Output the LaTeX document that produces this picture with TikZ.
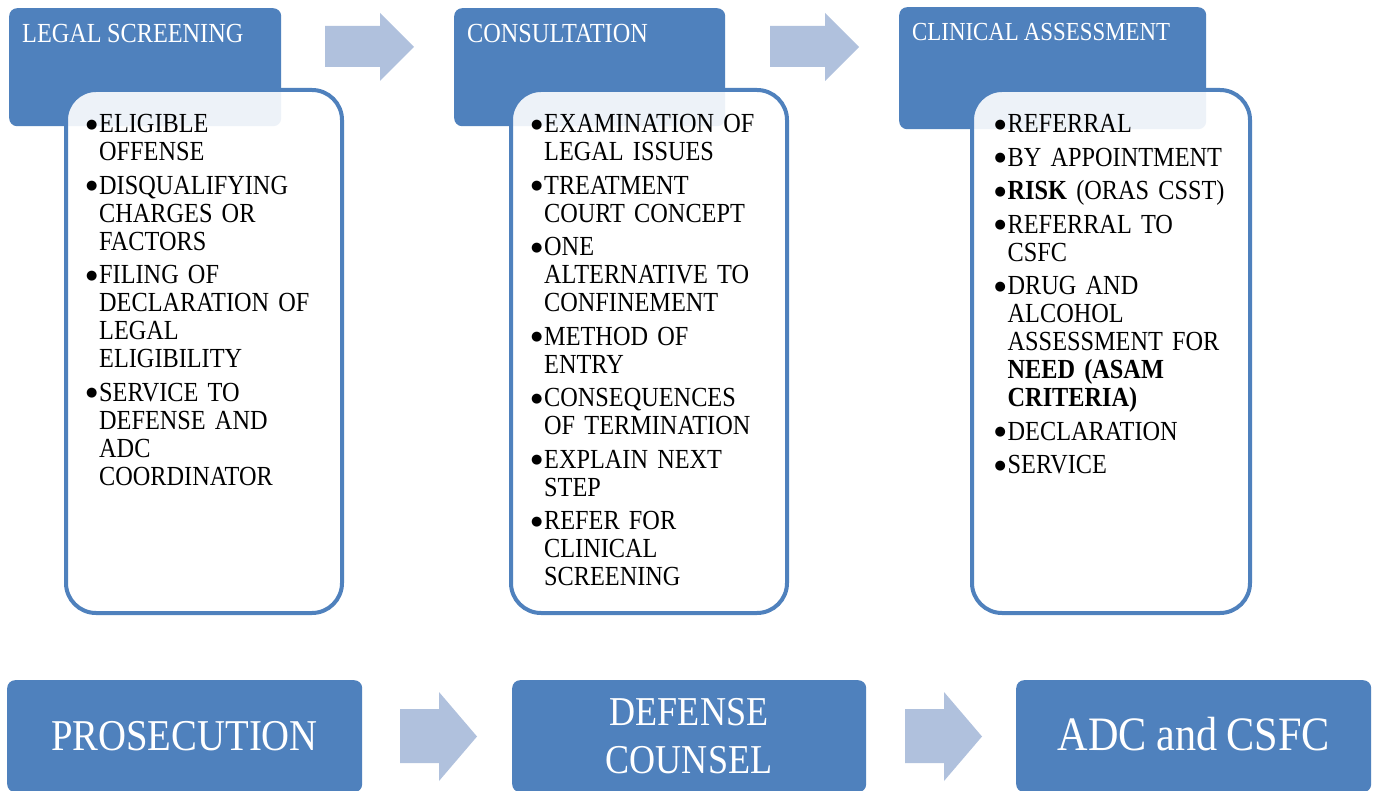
\documentclass[tikz,border=0pt]{standalone}
\usepackage{fontspec}
\setmainfont[FakeStretch=0.88,WordSpace=0.88]{Liberation Serif}
\newfontfamily\symf{DejaVu Sans}
\definecolor{hdr}{RGB}{79,129,189}
\definecolor{arr}{RGB}{176,193,221}
\newcommand\bl{\makebox[12.5pt][l]{\hspace*{-0.5pt}\raisebox{4.6pt}{\symf\fontsize{13}{13}\selectfont ●}}}
\newcommand\ind{\hspace*{12.5pt}}
\begin{document}
\begin{tikzpicture}[x=1pt,y=-1pt,
  hdrbox/.style={fill=hdr, draw=none, rounded corners=8pt, inner sep=0pt, anchor=north west},
  bodybox/.style={draw=hdr, line width=4pt, fill=white, fill opacity=0.9, rounded corners=30pt, inner sep=0pt, anchor=north west, minimum width=276pt, minimum height=523pt},
  hdrtxt/.style={text=white, inner sep=0pt, anchor=base west, font=\fontsize{27.6}{28}\selectfont},
  bodytxt/.style={text width=270pt, align=left, inner sep=0pt, anchor=base west, font=\fontsize{27.6}{28}\selectfont},
  arrowfill/.style={fill=arr}]
\useasboundingbox (0,0) rectangle (1377,791);
\fill[white] (0,0) rectangle (1377,791);

% headers
\node[hdrbox, minimum width=272pt, minimum height=118pt] (hA) at (9,8) {};
\node[hdrbox, minimum width=271pt, minimum height=118pt] (hB) at (454,8) {};
\node[hdrbox, minimum width=307pt, minimum height=122pt] (hC) at (899,7) {};

% bodies
\node[bodybox] (bA) at (64,88) {};
\node[bodybox] (bB) at (509,88) {};
\node[bodybox, minimum width=278pt] (bC) at (970,88) {};

% header texts
\node[hdrtxt] (tA) at (22,43) {LEGAL SCREENING};
\node[hdrtxt] (tB) at (467,43) {CONSULTATION};
\node[hdrtxt, font=\fontsize{26}{28}\selectfont] (tC) at (912,41) {CLINICAL ASSESSMENT};

% top arrows
\fill[arrowfill] (325,26) -- (380,26) -- (380,13) -- (414,47) -- (380,81) -- (380,67) -- (325,67) -- cycle;
\fill[arrowfill] (770,26) -- (825,26) -- (825,13) -- (859,47) -- (825,81) -- (825,67) -- (770,67) -- cycle;

% body texts
\node[bodytxt] (lA) at (86.5,133) {\bl ELIGIBLE\\ \ind OFFENSE\\[5.5pt]
\bl DISQUALIFYING\\ \ind CHARGES OR\\ \ind FACTORS\\[5.5pt]
\bl FILING OF\\ \ind DECLARATION OF\\ \ind LEGAL\\ \ind ELIGIBILITY\\[5.5pt]
\bl SERVICE TO\\ \ind DEFENSE AND\\ \ind ADC\\ \ind COORDINATOR};

\node[bodytxt] (lB) at (531.5,133) {\bl EXAMINATION OF\\ \ind LEGAL ISSUES\\[5.5pt]
\bl TREATMENT\\ \ind COURT CONCEPT\\[5.5pt]
\bl ONE\\ \ind ALTERNATIVE TO\\ \ind CONFINEMENT\\[5.5pt]
\bl METHOD OF\\ \ind ENTRY\\[5.5pt]
\bl CONSEQUENCES\\ \ind OF TERMINATION\\[5.5pt]
\bl EXPLAIN NEXT\\ \ind STEP\\[5.5pt]
\bl REFER FOR\\ \ind CLINICAL\\ \ind SCREENING};

\node[bodytxt] (lC) at (995,133) {\bl REFERRAL\\[5.5pt]
\bl BY APPOINTMENT\\[5.5pt]
\bl \textbf{RISK} (ORAS CSST)\\[5.5pt]
\bl REFERRAL TO\\ \ind CSFC\\[5.5pt]
\bl DRUG AND\\ \ind ALCOHOL\\ \ind ASSESSMENT FOR\\ \ind \textbf{NEED (ASAM}\\ \ind \textbf{CRITERIA)}\\[5.5pt]
\bl DECLARATION\\[5.5pt]
\bl SERVICE};

% bottom boxes
\node[hdrbox, minimum width=355pt, minimum height=112pt] (pA) at (7,680) {};
\node[hdrbox, minimum width=354pt, minimum height=112pt] (pB) at (512,680) {};
\node[hdrbox, minimum width=355pt, minimum height=112pt] (pC) at (1016,680) {};

\node[text=white, inner sep=0pt, anchor=base, font=\fontsize{44}{50}\selectfont] (qA) at (184.5,750) {PROSECUTION};
\node[text=white, inner sep=0pt, anchor=base, text width=340pt, align=center, font=\fontsize{41}{48}\selectfont] (qB) at (689,725) {DEFENSE\\COUNSEL};
\node[text=white, inner sep=0pt, anchor=base, font=\fontsize{48}{54}\selectfont] (qC) at (1194,750) {ADC and CSFC};

% bottom arrows
\fill[arrowfill] (400,709) -- (439,709) -- (439,692) -- (477,736.5) -- (439,781) -- (439,763) -- (400,763) -- cycle;
\fill[arrowfill] (905,709) -- (944,709) -- (944,692) -- (982,736.5) -- (944,781) -- (944,763) -- (905,763) -- cycle;
\end{tikzpicture}
\end{document}
